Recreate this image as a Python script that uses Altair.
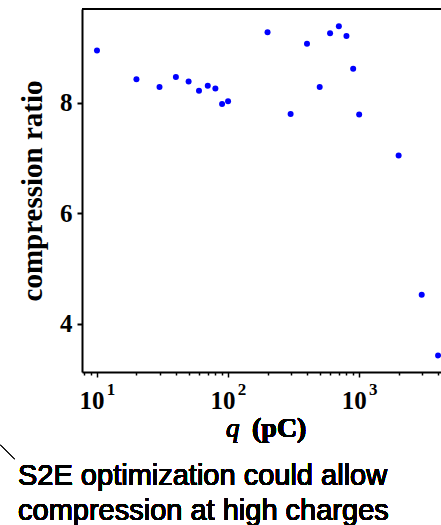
import altair as alt
import pandas as pd

# Data
charge_pc = [10, 20, 30, 40, 50, 60, 70, 80, 90, 100,
             200, 300, 400, 500, 600, 700, 800, 900, 1000,
             2000, 3000, 4000]
compression = [8.95, 8.43, 8.29, 8.47, 8.39, 8.22, 8.31, 8.26, 7.98, 8.03,
               9.28, 7.80, 9.07, 8.29, 9.26, 9.39, 9.21, 8.62, 7.79,
               7.05, 4.53, 3.43]

x_tick_values = [8, 9, 10, 20, 30, 40, 50, 60, 70, 80, 90, 100,
                 200, 300, 400, 500, 600, 700, 800, 900, 1000,
                 2000, 3000, 4000]
decades = [10, 100, 1000]
decade_base = ["10", "10", "10"]
decade_exp = ["1", "2", "3"]
y_tick_values = [4, 6, 8]
annotation_lines = ["S2E optimization could allow", "compression at high charges"]

df = pd.DataFrame({"q": charge_pc, "ratio": compression})
labels_df = pd.DataFrame({"q": decades, "base": decade_base, "exp": decade_exp})

W, H = 359, 363
SERIF = "Liberation Serif"

x_scale = alt.Scale(type="log", domain=[7.687, 4210], nice=False)
y_scale = alt.Scale(domain=[3.13, 9.70], nice=False, zero=False)

points = alt.Chart(df).mark_circle(size=36, color="#0000ff", opacity=1).encode(
    x=alt.X("q:Q", scale=x_scale,
            axis=alt.Axis(values=x_tick_values, labels=False,
                          title=None, grid=False,
                          domainColor="black", domainWidth=2,
                          tickColor="black", tickWidth=1.5,
                          tickSize={"condition": {"test": "datum.value == 10 || datum.value == 100 || datum.value == 1000", "value": 5}, "value": 3})),
    y=alt.Y("ratio:Q", scale=y_scale,
            axis=alt.Axis(values=y_tick_values, title="compression ratio",
                          grid=False, domainColor="black", domainWidth=2,
                          tickColor="black", tickWidth=2, tickSize=5,
                          labelFont=SERIF, labelFontWeight="bold",
                          labelFontSize=25, labelColor="black",
                          labelPadding=5,
                          titleFont=SERIF, titleFontWeight="bold",
                          titleFontSize=29, titleColor="black",
                          titlePadding=12)),
)

base_labels = alt.Chart(labels_df).mark_text(
    font=SERIF, fontWeight="bold", fontSize=25, align="center",
    baseline="alphabetic", dx=-5, color="black"
).encode(x=alt.X("q:Q", scale=x_scale), y=alt.value(399.5), text="base:N")

exp_labels = alt.Chart(labels_df).mark_text(
    font=SERIF, fontWeight="bold", fontSize=17, align="center",
    baseline="alphabetic", dx=14, color="black"
).encode(x=alt.X("q:Q", scale=x_scale), y=alt.value(386), text="exp:N")

top_line = alt.Chart(df).mark_rule(color="black", strokeWidth=2).encode(
    x=alt.value(0), x2=alt.value(W), y=alt.value(0)
)

q_text = alt.Chart(df).mark_text(
    text="q", font=SERIF, fontStyle="italic", fontSize=27,
    align="left", baseline="alphabetic", color="black"
).encode(x=alt.value(144), y=alt.value(428))

unit_text = alt.Chart(df).mark_text(
    text="(pC)", font=SERIF, fontWeight="bold", fontSize=28,
    align="left", baseline="alphabetic", color="black"
).encode(x=alt.value(170), y=alt.value(428))

note = alt.Chart(df).mark_text(
    text=annotation_lines, font="Liberation Sans", fontSize=29,
    lineHeight=35, align="left", baseline="alphabetic", color="black"
).encode(x=alt.value(-64), y=alt.value(476))

pointer = alt.Chart(df).mark_rule(color="#222222", strokeWidth=1).encode(
    x=alt.value(-82), y=alt.value(436), x2=alt.value(-67), y2=alt.value(450)
)

chart = alt.layer(top_line, points, base_labels, exp_labels, q_text, unit_text,
                  note, pointer).properties(
    width=W, height=H,
    padding={"left": 82, "top": 9, "right": 0, "bottom": 153},
    autosize="none",
).configure_view(stroke=None).configure(background="white")

chart.save("out.html", embed_options={"renderer": "svg", "actions": False})
